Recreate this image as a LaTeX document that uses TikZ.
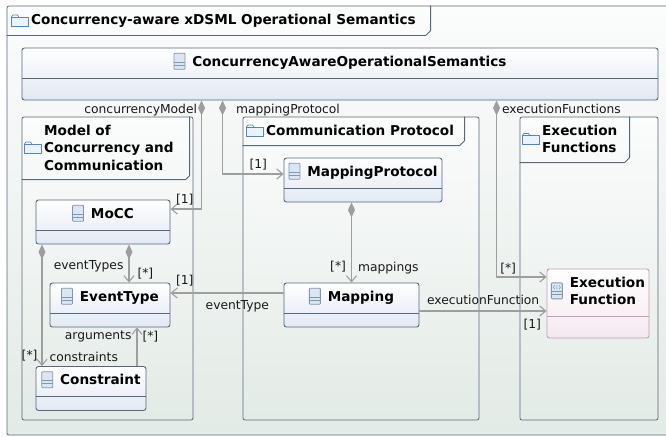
\documentclass[tikz,border=0pt]{standalone}
\usepackage{fontspec}
\setmainfont{DejaVu Sans}
\usetikzlibrary{arrows.meta,positioning}

\definecolor{frameline}{HTML}{56697B}
\definecolor{classbot}{HTML}{E1E9F3}
\definecolor{pkgtop}{HTML}{FBFCFC}
\definecolor{pkgbot}{HTML}{E3EBE6}
\definecolor{linkgray}{HTML}{9E9E9E}
\definecolor{opline}{HTML}{C29DBA}
\definecolor{opbot}{HTML}{F3E9F0}
\definecolor{iconline}{HTML}{7E98B2}
\definecolor{iconfill}{HTML}{DCE6F0}
\definecolor{folderline}{HTML}{5585BF}
\definecolor{folderfill}{HTML}{EAF2FB}

\newcommand{\titlefont}{\bfseries\fontsize{13.6}{17.5}\selectfont}
\newcommand{\rolefont}{\fontsize{12.3}{14}\selectfont}
\newcommand{\clsicon}{\tikz[baseline=0pt]{%
    \draw[iconline, fill=iconfill, line width=0.8pt, rounded corners=0.8pt] (0pt,-3pt) rectangle (11pt,13pt);
    \draw[iconline, line width=0.8pt] (0pt,1pt) -- (11pt,1pt) (0pt,4pt) -- (11pt,4pt);}}
\newcommand{\opicon}{\tikz[baseline=0pt]{%
    \draw[iconline, fill=iconfill, line width=0.8pt, rounded corners=0.8pt] (0pt,-3pt) rectangle (11pt,13pt);
    \draw[iconline, line width=0.8pt] (0pt,1pt) -- (11pt,1pt) (0pt,4pt) -- (11pt,4pt);
    \draw[iconline, line width=0.5pt] (3.5pt,10.5pt) -- (2pt,8.5pt) -- (3.5pt,6.5pt)
        (7.5pt,10.5pt) -- (9pt,8.5pt) -- (7.5pt,6.5pt) (5.5pt,10.5pt) -- (5.5pt,6.5pt);}}
\newcommand{\foldericon}{\tikz{%
    \draw[folderline, fill=folderfill, line width=0.7pt] (0pt,0pt) rectangle (17pt,9pt);
    \draw[folderline, line width=0.7pt] (0pt,9pt) -- (1.5pt,11pt) -- (6pt,11pt) -- (7.5pt,9pt);}}

\tikzstyle{pkg}=[draw=frameline, line width=0.8pt, rounded corners=2pt, top color=pkgtop, bottom color=pkgbot, inner sep=0pt]
\tikzstyle{tabline}=[draw=frameline, line width=0.8pt]
\tikzstyle{pkgtitle}=[anchor=west, inner sep=0pt, align=left, font=\titlefont]
\tikzstyle{icon}=[inner sep=0pt]
\tikzstyle{classbox}=[draw=frameline, line width=0.9pt, rounded corners=2.5pt, top color=white, bottom color=classbot, minimum height=44pt, inner sep=0pt]
\tikzstyle{classtitle}=[anchor=north, minimum height=30pt, inner sep=0pt, font=\titlefont]
\tikzstyle{classname}=[classtitle, text height=10pt, text depth=3pt]
\tikzstyle{divider}=[draw=frameline, line width=0.9pt]
\tikzstyle{link}=[draw=linkgray, line width=1.1pt, -{Straight Barb[length=6pt,width=10pt]}]
\tikzstyle{comp}=[link, {Diamond[length=15pt,width=7pt]}-{Straight Barb[length=6pt,width=10pt]}]
\tikzstyle{role}=[font=\rolefont, inner sep=1pt, text=black!90]

\begin{document}
\begin{tikzpicture}[x=1pt, y=-1pt, line join=round]
    \useasboundingbox (0,0) rectangle (666,436);

    % outer frame and its tab
    \node[pkg, minimum width=672pt, minimum height=429pt] (sem) at (343,220.5) {};
    \draw[tabline] ([yshift=-30pt]sem.north west) -- ++(419,0) -- ++(5,-5) -- ++(0,-25);
    \node[pkgtitle] (sem-t) at (31,20.5) {Concurrency-aware xDSML Operational Semantics};
    \node[icon, left=2pt of sem-t] (sem-i) {\foldericon};

    % the three packages
    \foreach \name/\pos/\bw in {moccpkg/{(107.5,268.5)}/171, cppkg/{(361,268.5)}/236, efpkg/{(589,268.5)}/138}
        \node[pkg, minimum width=\bw pt, minimum height=303pt] (\name) at \pos {};
    \draw[tabline] ([yshift=-63pt]moccpkg.north west) -- ++(164,0) -- ++(4,-4) -- ++(0,-59);
    \draw[tabline] ([yshift=-29pt]cppkg.north west) -- ++(217,0) -- ++(5,-5) -- ++(0,-24);
    \draw[tabline] ([yshift=-46pt]efpkg.north west) -- ++(105,0) -- ++(5,-5) -- ++(0,-41);
    \node[pkgtitle] (moccpkg-t) at (44,147.5) {Model of\\Concurrency and\\Communication};
    \node[pkgtitle] (cppkg-t) at (266,130.5) {Communication Protocol};
    \node[pkgtitle] (efpkg-t) at (542,139) {Execution\\Functions};
    \foreach \name in {moccpkg, cppkg, efpkg}
        \node[icon, left=2pt of \name-t] (\name-i) {\foldericon};

    % classes
    \node[classbox, minimum width=636pt, minimum height=52pt] (cas) at (340,74) {};
    \node[classname] (cas-t) at (cas.north) {\clsicon\hspace{7pt}ConcurrencyAwareOperationalSemantics};
    \draw[divider] (cas.west |- cas-t.south) -- (cas.east |- cas-t.south);
    \foreach \name/\pos/\bw/\txt in {mocc/{(103,222)}/134/MoCC, et/{(110,305)}/120/EventType,
            cons/{(91,388.5)}/110/Constraint, mp/{(363,180)}/158/MappingProtocol, mapping/{(351.5,305)}/135/Mapping}
    {
        \node[classbox, minimum width=\bw pt] (\name) at \pos {};
        \node[classname] (\name-t) at (\name.north) {\clsicon\hspace{7pt}\txt};
        \draw[divider] (\name.west |- \name-t.south) -- (\name.east |- \name-t.south);
    }
    \node[classbox, draw=opline, bottom color=opbot, minimum width=102pt, minimum height=69pt] (ef) at (598,303.5) {};
    \node[classtitle, minimum height=47pt] (ef-t) at (ef.north) {\opicon\hspace{7pt}\begin{tabular}{@{}l@{}}Execution\\Function\end{tabular}};
    \draw[divider, draw=opline] (ef.west |- ef-t.south) -- (ef.east |- ef-t.south);

    % references
    \path[comp] ([xshift=180pt]cas.south west) |- ([yshift=13pt]mocc.east)
        node[role, at start, anchor=north east, xshift=-3pt, yshift=-2pt] (cm-role) {concurrencyModel}
        node[role, at end, anchor=south west, xshift=4pt, yshift=2pt] (cm-mult) {[1]};
    \path[comp] ([xshift=201pt]cas.south west) |- ([yshift=6pt]mp.west)
        node[role, at start, anchor=north west, xshift=12pt, yshift=-2pt] (mpp-role) {mappingProtocol}
        node[role, at end, anchor=south east, xshift=-15pt, yshift=2pt] (mpp-mult) {[1]};
    \path[comp] ([xshift=475pt]cas.south west) |- ([yshift=26.5pt]ef.west)
        node[role, at start, anchor=north west, xshift=4pt, yshift=-2pt] (efs-role) {executionFunctions}
        node[role, at end, anchor=south east, xshift=-29pt, yshift=1pt] (efs-mult) {[*]};
    \path[comp] (mp.south -| mapping.north) -- (mapping.north)
        node[role, at end, anchor=south east, xshift=-4pt, yshift=9pt] (map-mult) {[*]}
        node[role, at end, anchor=south west, xshift=5pt, yshift=7pt] (map-role) {mappings};
    \path[link] ([yshift=-6pt]mapping.east) -- ([yshift=-7.5pt]ef.west)
        node[role, at start, anchor=south west, xshift=6pt, yshift=5pt] (exf-role) {executionFunction}
        node[role, at end, anchor=north east, xshift=-4pt, yshift=-7pt] (exf-mult) {[1]};
    \path[link] ([yshift=12pt]mapping.west) -- ([yshift=12pt]et.east)
        node[role, at start, anchor=north east, xshift=-13pt, yshift=-6pt] (et-role) {eventType}
        node[role, at end, anchor=south west, xshift=4pt, yshift=5pt] (et-mult) {[1]};
    \path[comp] ([xshift=26pt]mocc.south) -- ([xshift=19pt]et.north)
        node[role, at end, anchor=south east, xshift=-4pt, yshift=9pt] (ets-role) {eventTypes}
        node[role, at end, anchor=south west, xshift=7pt, yshift=2pt] (ets-mult) {[*]};
    \path[comp] ([xshift=-61pt]mocc.south) -- ([xshift=-49pt]cons.north)
        node[role, at end, anchor=south east, xshift=-3pt, yshift=3pt] (cs-mult) {[*]}
        node[role, at end, anchor=south west, xshift=6pt, yshift=3pt] (cs-role) {constraints};
    \path[link] ([xshift=46pt]cons.north) -- ([xshift=27pt]et.south)
        node[role, at end, anchor=north east, xshift=-4pt, yshift=-2pt] (arg-role) {arguments}
        node[role, at end, anchor=north west, xshift=4pt, yshift=-2pt] (arg-mult) {[*]};
\end{tikzpicture}
\end{document}
